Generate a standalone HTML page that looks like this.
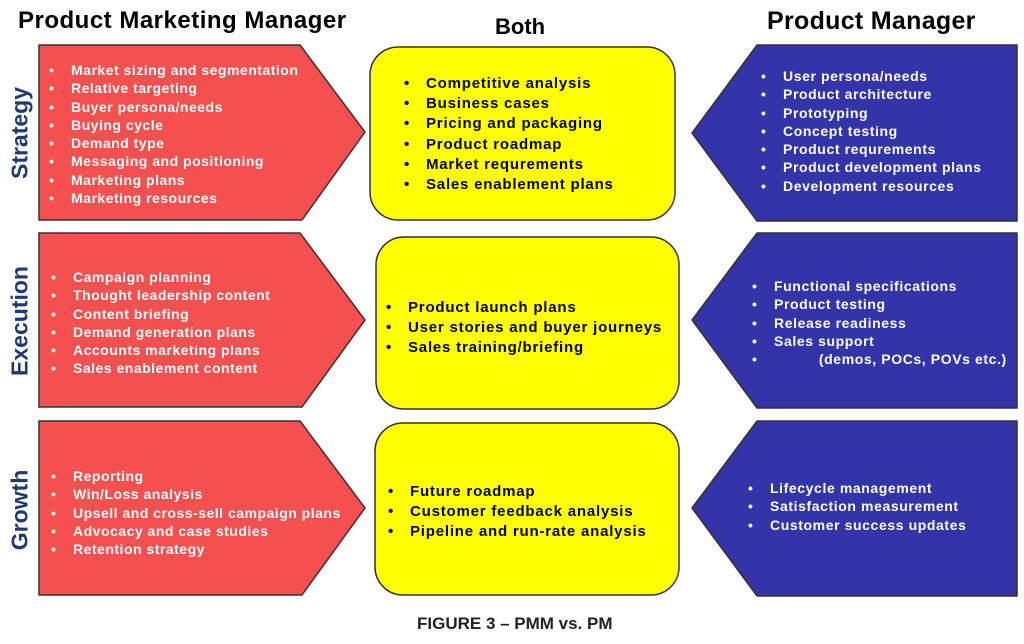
<!DOCTYPE html>
<html><head><meta charset="utf-8"><style>
body{margin:0;width:1024px;height:644px;background:#fff;position:relative;overflow:hidden;font-family:"Liberation Sans",sans-serif;}
svg{position:absolute;left:0;top:0}
.t{position:absolute;font-weight:bold;white-space:nowrap}
.l{position:absolute;font-weight:bold;white-space:pre;font-size:14px;line-height:18.3px;letter-spacing:0.5px}
.l div{position:relative}
.l i{position:absolute;left:-22px;font-style:normal;letter-spacing:0}
.w{color:#fff}
.k{color:#000;font-size:15px;line-height:20.2px;letter-spacing:0.8px}
.b{letter-spacing:0.6px}
.r{position:absolute;font-weight:bold;color:#1f3a6e;font-size:23px;transform:translate(-50%,-50%) rotate(-90deg);white-space:nowrap}
</style></head><body>
<svg width="1024" height="644">
<g fill="#f55050" stroke="#333" stroke-width="1.5">
<polygon points="39,45 300,45 365,132 302,220 39,220"/>
<polygon points="39,233 300,233 365,320 302,407 39,407"/>
<polygon points="39,421 300,421 365,508 302,595 39,595"/>
</g>
<g fill="#3333aa" stroke="#333" stroke-width="1.5">
<polygon points="757,45 1017,45 1017,221 757,221 692,133"/>
<polygon points="757,233 1017,233 1017,408 757,408 692,320"/>
<polygon points="757,421 1017,421 1017,596 757,596 692,508"/>
</g>
<g fill="#ffff00" stroke="#333" stroke-width="1.5">
<rect x="370" y="47" width="305" height="173" rx="28"/>
<rect x="376" y="237" width="303" height="172" rx="28"/>
<rect x="375" y="423" width="304" height="172" rx="28"/>
</g>
</svg>
<div class="t" style="left:18px;top:7px;font-size:24px;letter-spacing:0.5px">Product Marketing Manager</div>
<div class="t" style="left:495px;top:14px;font-size:22px">Both</div>
<div class="t" style="left:767px;top:7px;font-size:25px;letter-spacing:0.3px">Product Manager</div>
<div class="r" style="left:20px;top:133px">Strategy</div>
<div class="r" style="left:20px;top:321px">Execution</div>
<div class="r" style="left:20px;top:510px">Growth</div>

<div class="l w" style="left:71px;top:61px"><div><i>•</i>Market sizing and segmentation</div><div><i>•</i>Relative targeting</div><div><i>•</i>Buyer persona/needs</div><div><i>•</i>Buying cycle</div><div><i>•</i>Demand type</div><div><i>•</i>Messaging and positioning</div><div><i>•</i>Marketing plans</div><div><i>•</i>Marketing resources</div></div>
<div class="l w" style="left:73px;top:268px"><div><i>•</i>Campaign planning</div><div><i>•</i>Thought leadership content</div><div><i>•</i>Content briefing</div><div><i>•</i>Demand generation plans</div><div><i>•</i>Accounts marketing plans</div><div><i>•</i>Sales enablement content</div></div>
<div class="l w" style="left:73px;top:467px"><div><i>•</i>Reporting</div><div><i>•</i>Win/Loss analysis</div><div><i>•</i>Upsell and cross-sell campaign plans</div><div><i>•</i>Advocacy and case studies</div><div><i>•</i>Retention strategy</div></div>

<div class="l k" style="left:426px;top:74px"><div><i>•</i>Competitive analysis</div><div><i>•</i>Business cases</div><div><i>•</i>Pricing and packaging</div><div><i>•</i>Product roadmap</div><div><i>•</i>Market requrements</div><div><i>•</i>Sales enablement plans</div></div>
<div class="l k" style="left:408px;top:298px"><div><i>•</i>Product launch plans</div><div><i>•</i>User stories and buyer journeys</div><div><i>•</i>Sales training/briefing</div></div>
<div class="l k" style="left:410px;top:482px"><div><i>•</i>Future roadmap</div><div><i>•</i>Customer feedback analysis</div><div><i>•</i>Pipeline and run-rate analysis</div></div>

<div class="l w b" style="left:783px;top:67px"><div><i>•</i>User persona/needs</div><div><i>•</i>Product architecture</div><div><i>•</i>Prototyping</div><div><i>•</i>Concept testing</div><div><i>•</i>Product requrements</div><div><i>•</i>Product development plans</div><div><i>•</i>Development resources</div></div>
<div class="l w b" style="left:774px;top:277px"><div><i>•</i>Functional specifications</div><div><i>•</i>Product testing</div><div><i>•</i>Release readiness</div><div><i>•</i>Sales support</div><div><i>•</i>          (demos, POCs, POVs etc.)</div></div>
<div class="l w b" style="left:770px;top:479px"><div><i>•</i>Lifecycle management</div><div><i>•</i>Satisfaction measurement</div><div><i>•</i>Customer success updates</div></div>

<div class="t" style="left:417px;top:614px;font-size:17px;color:#222">FIGURE 3 – PMM vs. PM</div>
</body></html>
